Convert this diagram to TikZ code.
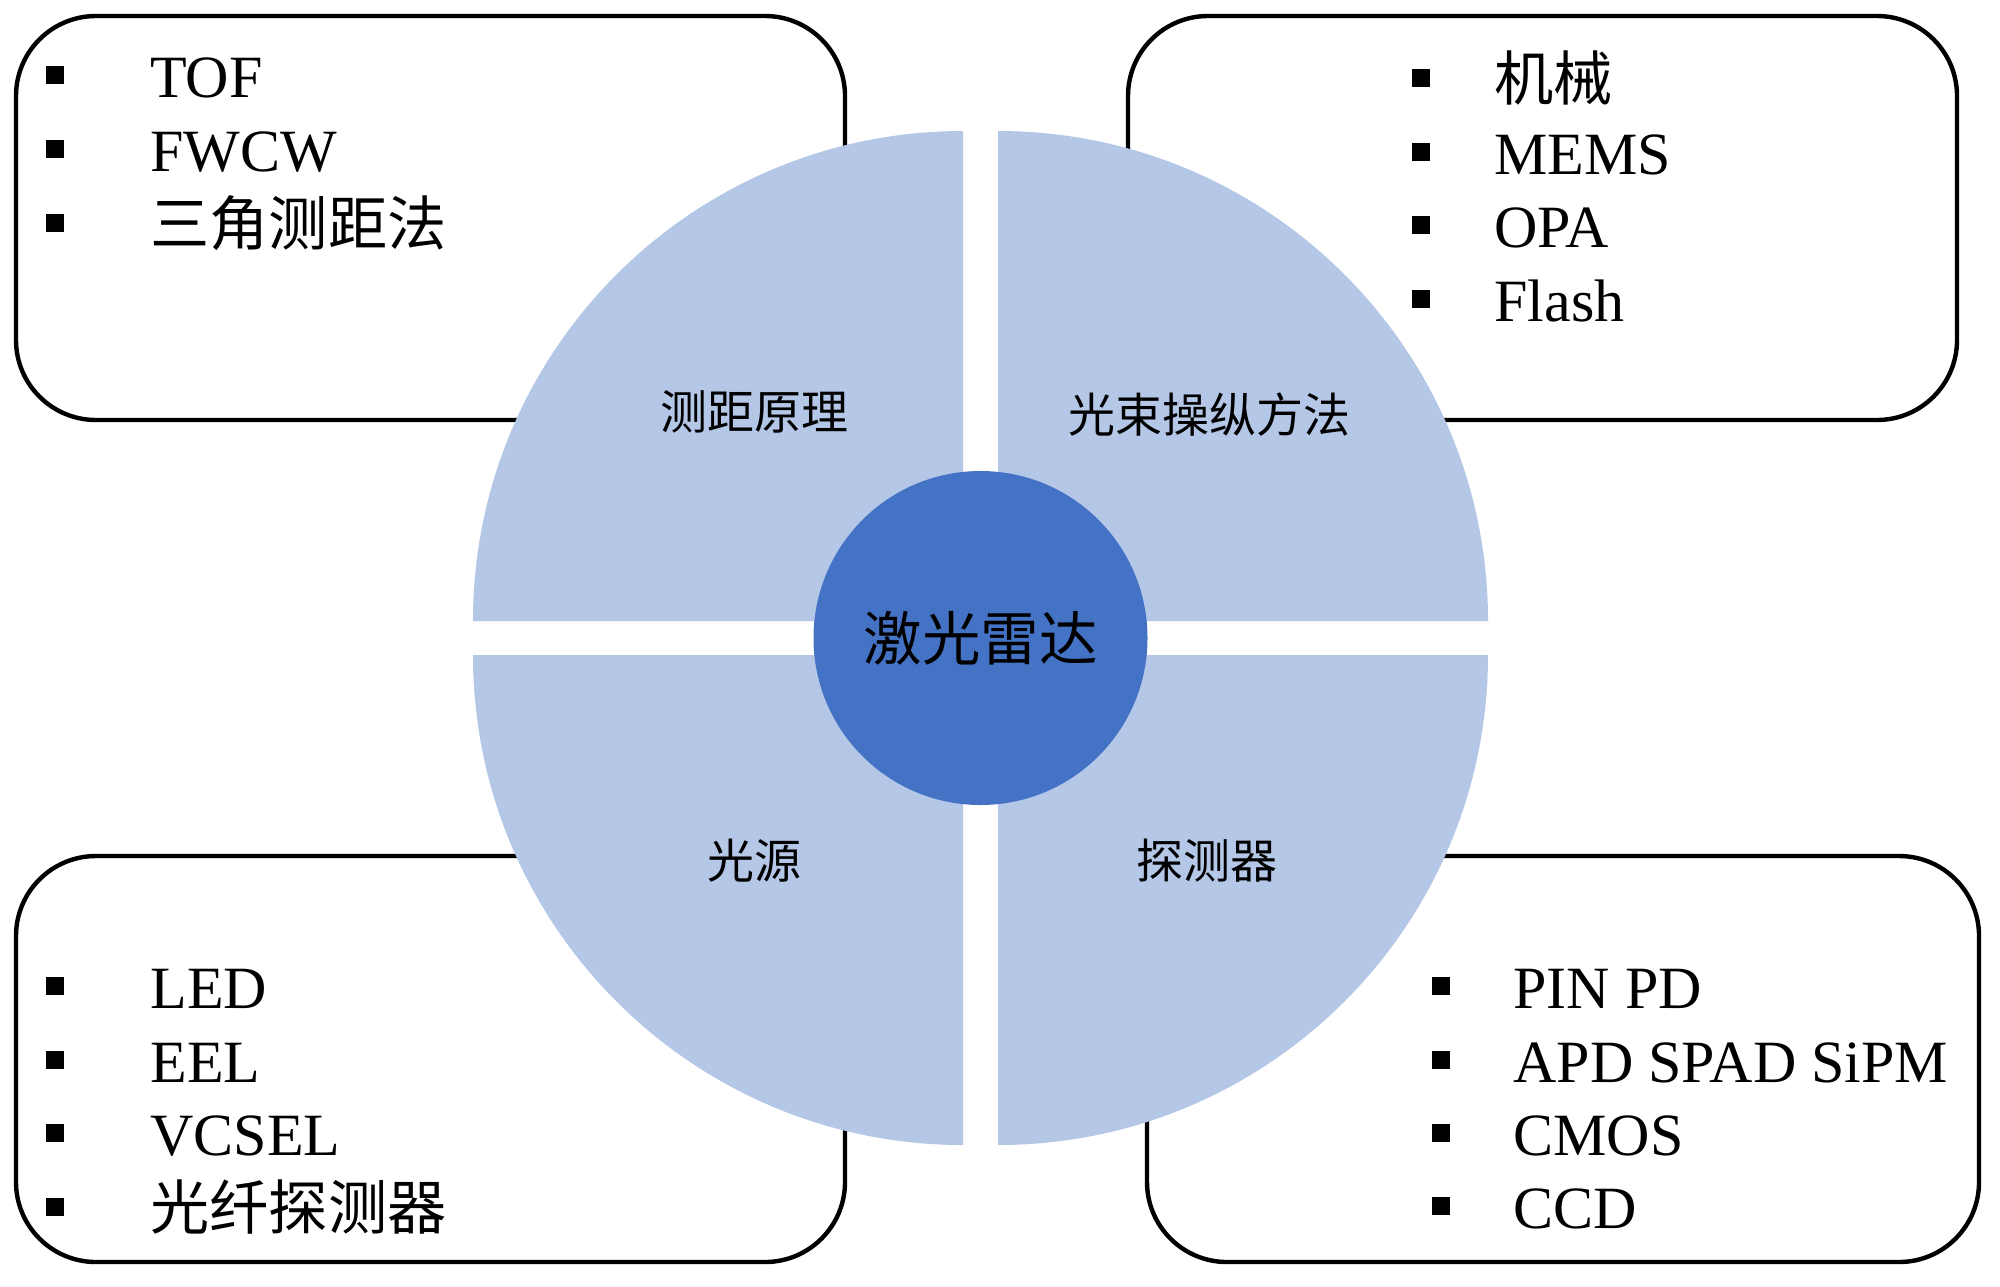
\documentclass[tikz,border=0pt]{standalone}
\usepackage{fontspec}
\setmainfont{Liberation Serif}
\newfontfamily\cjk{Noto Sans CJK SC}
\definecolor{quadfill}{HTML}{B4C7E7}
\definecolor{hubfill}{HTML}{4472C4}
\begin{document}
\begin{tikzpicture}[x=0.5pt,y=-0.5pt,
  panel/.style={draw=black,line width=2.2pt,fill=white,rounded corners=40pt},
  quad/.style={fill=quadfill},
  item/.style={anchor=base west,inner sep=0pt,font=\fontsize{30}{31}\selectfont},
  citem/.style={anchor=base west,inner sep=0pt,font=\cjk\fontsize{29.6}{30}\selectfont},
  bul/.style={fill=black,inner sep=0pt,minimum size=9pt,draw=none},
  qlabel/.style={font=\cjk\fontsize{23.5}{24}\selectfont,inner sep=0pt},
  hub/.style={circle,fill=hubfill,minimum size=167pt,inner sep=0pt,font=\cjk\fontsize{29.25}{30}\selectfont}
]
\useasboundingbox (0,0) rectangle (2000,1286);
\fill[white] (0,0) rectangle (2000,1286);

% panels
\draw[panel] (16,16) rectangle (845,420);
\draw[panel] (1128,16) rectangle (1957,420);
\draw[panel] (16,856) rectangle (845,1262);
\draw[panel] (1147,856) rectangle (1979,1262);

% quadrants
\fill[quad] (963,621) -- ++(-490,0) arc[start angle=180,end angle=270,radius=490] -- cycle;
\fill[quad] (998,621) -- ++(490,0) arc[start angle=0,end angle=-90,radius=490] -- cycle;
\fill[quad] (963,655) -- ++(-490,0) arc[start angle=180,end angle=90,radius=490] -- cycle;
\fill[quad] (998,655) -- ++(490,0) arc[start angle=0,end angle=90,radius=490] -- cycle;

% hub
\node[hub] (hub) at (980.5,638) {激光雷达};

% quadrant labels
\node[qlabel] (q1) at (754,412) {测距原理};
\node[qlabel] (q2) at (1209,415) {光束操纵方法};
\node[qlabel] (q3) at (754,861) {光源};
\node[qlabel] (q4) at (1207,861) {探测器};

% top-left list
\node[bul] (a1b) at (55,75) {};
\node[item] (a1) at (150,97) {TOF};
\node[bul] (a2b) at (55,149) {};
\node[item] (a2) at (150,171) {FWCW};
\node[bul] (a3b) at (55,223) {};
\node[citem] (a3) at (150,245) {三角测距法};

% top-right list
\node[bul] (b1b) at (1421,78) {};
\node[citem] (b1) at (1494,100) {机械};
\node[bul] (b2b) at (1421,152) {};
\node[item] (b2) at (1494,174) {MEMS};
\node[bul] (b3b) at (1421,225) {};
\node[item] (b3) at (1494,247) {OPA};
\node[bul] (b4b) at (1421,299) {};
\node[item] (b4) at (1494,321) {Flash};

% bottom-left list
\node[bul] (c1b) at (55,986) {};
\node[item] (c1) at (150,1008) {LED};
\node[bul] (c2b) at (55,1060) {};
\node[item] (c2) at (150,1082) {EEL};
\node[bul] (c3b) at (55,1133) {};
\node[item] (c3) at (150,1155) {VCSEL};
\node[bul] (c4b) at (55,1207) {};
\node[citem] (c4) at (150,1229) {光纤探测器};

% bottom-right list
\node[bul] (d1b) at (1441,986) {};
\node[item] (d1) at (1513,1008) {PIN PD};
\node[bul] (d2b) at (1441,1060) {};
\node[item] (d2) at (1513,1082) {APD SPAD SiPM};
\node[bul] (d3b) at (1441,1133) {};
\node[item] (d3) at (1513,1155) {CMOS};
\node[bul] (d4b) at (1441,1206) {};
\node[item] (d4) at (1513,1228) {CCD};
\end{tikzpicture}
\end{document}
